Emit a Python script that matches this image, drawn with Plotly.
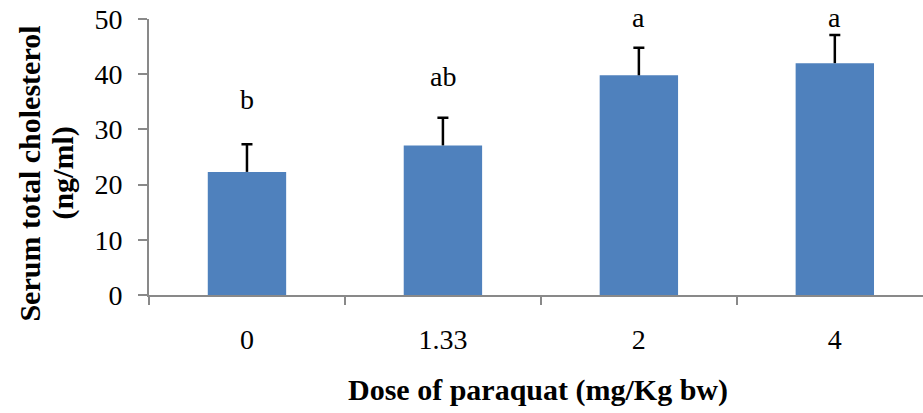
import plotly.graph_objects as go

categories = ["0", "1.33", "2", "4"]
means = [22.3, 27.1, 39.8, 42.0]
errors = [5.0, 5.0, 5.0, 5.1]
letters = ["b", "ab", "a", "a"]
letter_y = [35.4, 39.5, 50.3, 50.3]

FONT = "Liberation Serif"
AXIS_COLOR = "#898989"
Y_MAX = 50

fig = go.Figure()
fig.add_trace(go.Bar(
    x=categories, y=means, width=0.4,
    marker=dict(color="#4F81BD", line=dict(width=0)),
    showlegend=False,
))

# error bar stems (upper only)
stem_x, stem_y = [], []
for c, m, e in zip(categories, means, errors):
    stem_x += [c, c, None]
    stem_y += [m, m + e, None]
fig.add_trace(go.Scatter(x=stem_x, y=stem_y, mode="lines",
                         line=dict(color="black", width=2.5), showlegend=False, hoverinfo="skip"))
# error bar caps
fig.add_trace(go.Scatter(x=categories, y=[m + e for m, e in zip(means, errors)], mode="markers",
                         marker=dict(size=1, color="rgba(0,0,0,0)"),
                         error_y=dict(type="data", array=[0]*len(errors), color="black",
                                      thickness=2.5, width=5.5),
                         showlegend=False, hoverinfo="skip"))

for i, (l, ly) in enumerate(zip(letters, letter_y)):
    fig.add_annotation(x=i, y=ly / Y_MAX, text=l, showarrow=False, xref="x", yref="paper",
                       font=dict(family=FONT, size=28, color="black"),
                       xanchor="center", yanchor="middle")

fig.add_annotation(text="<b>Serum total cholesterol</b>", textangle=-90,
                   xref="paper", yref="paper", x=0, y=0.44, xshift=-119,
                   xanchor="center", yanchor="middle", showarrow=False,
                   font=dict(family=FONT, size=30, color="black"))
fig.add_annotation(text="<b>(ng/ml)</b>", textangle=-90,
                   xref="paper", yref="paper", x=0, y=0.44, xshift=-86,
                   xanchor="center", yanchor="middle", showarrow=False,
                   font=dict(family=FONT, size=30, color="black"))
fig.add_annotation(text="<b>Dose of paraquat (mg/Kg bw)</b>",
                   xref="paper", yref="paper", x=0.5026, y=0, yshift=-95,
                   xanchor="center", yanchor="middle", showarrow=False,
                   font=dict(family=FONT, size=30, color="black"))

fig.update_layout(
    width=923, height=413,
    margin=dict(l=149, r=0, t=19, b=118),
    plot_bgcolor="white", paper_bgcolor="white",
    font=dict(family=FONT, size=28, color="black"),
    xaxis=dict(type="category", range=[-0.5, 3.45], showline=True, linecolor=AXIS_COLOR, linewidth=2,
               ticks="outside", tickson="boundaries", ticklen=8, tickcolor=AXIS_COLOR, tickwidth=2,
               ticklabelstandoff=18,
               showgrid=False, zeroline=False, tickfont=dict(family=FONT, size=28, color="black")),
    yaxis=dict(range=[0, Y_MAX], dtick=10, showline=True, linecolor=AXIS_COLOR, linewidth=2,
               ticks="outside", ticklen=9, tickcolor=AXIS_COLOR, tickwidth=2,
               ticklabelstandoff=10,
               showgrid=False, zeroline=False, tickfont=dict(family=FONT, size=28, color="black")),
)

fig.write_html("out.html")
